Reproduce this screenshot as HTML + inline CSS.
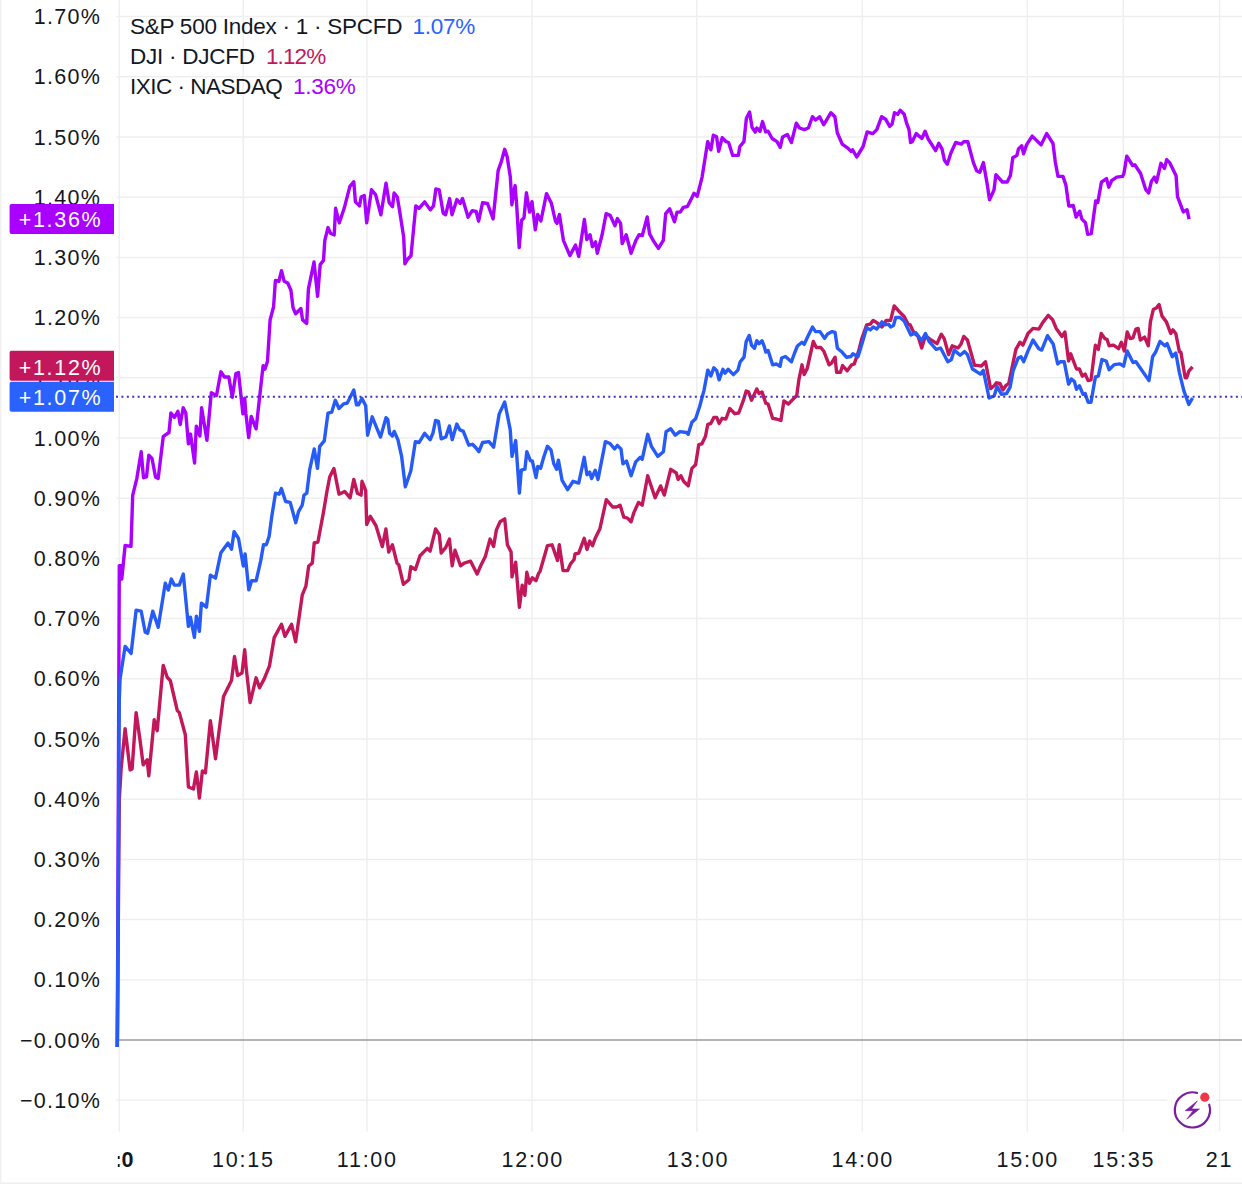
<!DOCTYPE html>
<html><head><meta charset="utf-8"><style>
html,body{margin:0;padding:0;background:#fff;}
body{width:1242px;height:1195px;overflow:hidden;}
svg{display:block;font-family:"Liberation Sans",sans-serif;}
</style></head><body>
<svg width="1242" height="1195" viewBox="0 0 1242 1195">
<rect x="0" y="0" width="1242" height="1195" fill="#fff"/>
<rect x="0" y="0" width="1.5" height="1183" fill="#f1f1f1"/>
<rect x="0" y="1182.5" width="1242" height="1.5" fill="#eeeeee"/>

<g stroke="#efefef" stroke-width="1.5"><line x1="116.5" y1="1100.2" x2="1242" y2="1100.2"/><line x1="116.5" y1="979.8" x2="1242" y2="979.8"/><line x1="116.5" y1="919.6" x2="1242" y2="919.6"/><line x1="116.5" y1="859.4" x2="1242" y2="859.4"/><line x1="116.5" y1="799.2" x2="1242" y2="799.2"/><line x1="116.5" y1="739.0" x2="1242" y2="739.0"/><line x1="116.5" y1="678.8" x2="1242" y2="678.8"/><line x1="116.5" y1="618.6" x2="1242" y2="618.6"/><line x1="116.5" y1="558.4" x2="1242" y2="558.4"/><line x1="116.5" y1="498.2" x2="1242" y2="498.2"/><line x1="116.5" y1="438.0" x2="1242" y2="438.0"/><line x1="116.5" y1="377.8" x2="1242" y2="377.8"/><line x1="116.5" y1="317.6" x2="1242" y2="317.6"/><line x1="116.5" y1="257.4" x2="1242" y2="257.4"/><line x1="116.5" y1="197.2" x2="1242" y2="197.2"/><line x1="116.5" y1="137.0" x2="1242" y2="137.0"/><line x1="116.5" y1="76.8" x2="1242" y2="76.8"/><line x1="116.5" y1="16.6" x2="1242" y2="16.6"/>
<line x1="119.3" y1="0" x2="119.3" y2="1131.5"/>
<line x1="243.2" y1="0" x2="243.2" y2="1131.5"/>
<line x1="366.9" y1="0" x2="366.9" y2="1131.5"/>
<line x1="532.0" y1="0" x2="532.0" y2="1131.5"/>
<line x1="696.8" y1="0" x2="696.8" y2="1131.5"/>
<line x1="862.3" y1="0" x2="862.3" y2="1131.5"/>
<line x1="1027.3" y1="0" x2="1027.3" y2="1131.5"/>
<line x1="1123.2" y1="0" x2="1123.2" y2="1131.5"/>
<line x1="1219.6" y1="0" x2="1219.6" y2="1131.5"/>
</g>
<line x1="117" y1="1040" x2="1242" y2="1040" stroke="#9a9a9a" stroke-width="1.6"/>
<g fill="#131722" font-size="21.5" letter-spacing="1.3"><text x="101.3" y="1107.7" text-anchor="end">−0.10%</text><text x="101.3" y="1047.5" text-anchor="end">−0.00%</text><text x="101.3" y="987.3" text-anchor="end">0.10%</text><text x="101.3" y="927.1" text-anchor="end">0.20%</text><text x="101.3" y="866.9" text-anchor="end">0.30%</text><text x="101.3" y="806.7" text-anchor="end">0.40%</text><text x="101.3" y="746.5" text-anchor="end">0.50%</text><text x="101.3" y="686.3" text-anchor="end">0.60%</text><text x="101.3" y="626.1" text-anchor="end">0.70%</text><text x="101.3" y="565.9" text-anchor="end">0.80%</text><text x="101.3" y="505.7" text-anchor="end">0.90%</text><text x="101.3" y="445.5" text-anchor="end">1.00%</text><text x="101.3" y="385.3" text-anchor="end">1.10%</text><text x="101.3" y="325.1" text-anchor="end">1.20%</text><text x="101.3" y="264.9" text-anchor="end">1.30%</text><text x="101.3" y="204.7" text-anchor="end">1.40%</text><text x="101.3" y="144.5" text-anchor="end">1.50%</text><text x="101.3" y="84.3" text-anchor="end">1.60%</text><text x="101.3" y="24.1" text-anchor="end">1.70%</text></g>
<g fill="#131722" font-size="21.5" text-anchor="middle" letter-spacing="1.75"><text x="243.4" y="1167">10:15</text><text x="367.3" y="1167">11:00</text><text x="532.8" y="1167">12:00</text><text x="698" y="1167">13:00</text><text x="862.8" y="1167">14:00</text><text x="1027.8" y="1167">15:00</text><text x="1123.9" y="1167">15:35</text><text x="1219.4" y="1167">21</text></g>
<clipPath id="cl"><rect x="117.8" y="1130" width="40" height="60"/></clipPath>
<text x="133.5" y="1167" text-anchor="end" font-size="21.5" font-weight="bold" fill="#131722" clip-path="url(#cl)">0:0</text>
<path d="M117.3,1047.0 L119.3,565.6 L120.9,565.6 L121.8,579.0 L125.1,545.5 L131.0,546.4 L132.7,495.3 L136.8,478.6 L141.2,451.8 L143.5,477.7 L146.5,476.9 L148.8,455.1 L152.0,458.5 L155.5,476.9 L158.2,478.4 L163.3,436.3 L169.0,432.5 L170.9,413.0 L174.4,417.4 L177.9,411.3 L180.2,424.5 L183.2,407.8 L185.8,413.0 L188.4,443.8 L190.5,434.1 L194.6,463.1 L196.3,426.2 L199.9,435.9 L201.6,407.8 L206.9,440.3 L211.3,392.8 L216.5,395.5 L220.9,371.8 L224.4,377.0 L228.8,377.0 L232.3,397.2 L235.9,373.5 L238.5,372.6 L242.9,413.9 L244.7,398.1 L245.9,413.9 L248.7,437.6 L251.2,416.5 L256.1,428.8 L263.1,365.6 L264.9,369.1 L267.5,361.2 L270.1,319.9 L273.6,306.7 L275.4,280.4 L278.9,281.3 L281.5,270.7 L284.2,281.3 L287.7,283.0 L290.9,290.1 L293.0,307.6 L295.6,313.8 L300.9,308.5 L302.6,319.9 L306.7,323.4 L308.4,289.2 L314.0,262.0 L317.6,296.2 L320.2,264.6 L323.5,260.4 L324.8,240.5 L328.0,227.6 L330.5,233.3 L334.2,234.9 L335.6,208.3 L339.3,222.8 L344.2,208.3 L349.8,186.6 L353.8,181.7 L355.4,201.9 L359.5,205.9 L361.1,197.0 L364.3,195.4 L366.7,222.8 L371.5,189.8 L375.6,194.6 L380.9,214.8 L386.0,183.3 L389.2,202.7 L392.5,206.7 L394.1,193.0 L397.3,197.0 L399.7,211.5 L403.7,237.3 L404.9,263.9 L407.8,259.0 L411.0,255.8 L415.8,205.9 L419.0,208.3 L424.7,201.9 L430.3,209.9 L433.5,205.9 L435.9,189.0 L439.2,189.8 L443.2,213.1 L445.6,214.8 L449.6,198.6 L452.0,214.8 L456.9,199.5 L460.1,203.5 L462.5,198.6 L468.1,217.2 L472.2,210.7 L476.2,211.5 L478.6,221.2 L482.6,202.7 L487.5,203.5 L493.1,218.8 L498.2,170.3 L501.4,161.4 L504.7,149.3 L507.1,156.6 L510.3,176.7 L511.9,204.9 L513.5,192.8 L515.1,185.6 L516.7,205.7 L519.2,247.6 L521.6,220.2 L524.0,217.8 L526.4,192.8 L529.6,212.1 L532.0,201.7 L535.3,229.8 L537.7,214.5 L540.9,221.0 L546.5,193.6 L551.4,203.3 L555.4,221.0 L557.0,223.4 L559.4,214.5 L563.4,240.3 L569.9,255.6 L575.5,245.1 L578.7,256.4 L584.4,219.4 L586.8,239.5 L590.0,234.7 L592.4,246.7 L595.6,241.9 L597.3,253.2 L602.1,234.7 L606.1,213.7 L610.1,215.3 L615.0,225.8 L617.4,218.6 L620.6,223.4 L622.2,243.5 L626.2,234.7 L631.1,253.2 L635.9,240.3 L639.1,234.7 L642.3,235.5 L647.2,217.0 L649.6,233.9 L653.6,241.1 L658.4,248.4 L663.3,240.3 L665.7,213.7 L669.7,208.9 L674.5,221.8 L677.0,212.1 L680.2,212.1 L683.4,207.3 L687.4,206.5 L691.5,198.4 L694.0,193.2 L697.2,196.4 L702.1,177.1 L707.7,141.7 L710.9,149.8 L713.3,135.3 L716.6,136.9 L718.7,151.4 L722.2,137.7 L726.2,141.7 L728.6,142.5 L732.7,155.4 L738.3,155.4 L739.9,146.5 L743.9,141.7 L746.4,118.3 L749.6,111.9 L752.0,127.2 L755.2,132.0 L756.8,128.0 L760.0,131.2 L762.5,121.6 L765.7,132.0 L768.1,131.2 L772.1,138.5 L777.0,141.7 L780.2,147.3 L782.6,136.9 L787.4,134.5 L791.4,142.5 L796.3,123.2 L799.5,128.0 L804.3,129.6 L808.4,128.0 L812.4,116.7 L815.6,120.0 L819.6,116.7 L823.7,124.8 L830.9,112.7 L834.9,116.7 L837.3,132.8 L842.2,144.1 L847.8,148.1 L851.0,151.4 L852.6,149.8 L856.7,157.0 L863.1,146.5 L867.1,132.0 L872.8,133.6 L876.8,129.6 L881.6,116.7 L885.6,119.2 L889.7,126.4 L892.1,124.0 L894.5,112.7 L897.7,114.3 L900.1,110.3 L904.2,114.3 L906.6,123.2 L909.0,129.6 L910.6,142.5 L912.2,141.7 L916.2,133.6 L921.9,138.5 L925.1,131.2 L928.3,139.3 L931.5,144.1 L935.6,150.6 L938.8,143.3 L942.0,148.9 L944.4,160.2 L947.3,164.2 L950.9,153.0 L955.7,142.5 L961.3,144.1 L963.7,141.7 L967.8,141.7 L973.4,162.6 L976.6,170.7 L979.8,172.3 L983.4,162.6 L987.1,183.6 L989.5,199.7 L994.0,190.0 L995.9,174.7 L1002.4,182.0 L1007.2,182.0 L1010.4,175.5 L1012.8,157.8 L1016.9,155.4 L1018.5,148.9 L1021.7,145.7 L1023.6,153.8 L1026.5,144.9 L1032.2,136.1 L1037.0,140.9 L1041.0,144.9 L1046.7,133.6 L1053.0,143.5 L1055.3,162.0 L1058.0,176.4 L1063.0,176.4 L1065.9,185.1 L1068.8,206.1 L1073.2,205.4 L1076.1,217.0 L1079.7,211.2 L1081.9,219.1 L1085.5,222.8 L1087.7,234.3 L1091.3,233.6 L1095.7,201.0 L1097.8,202.5 L1101.4,182.2 L1106.5,178.6 L1108.7,187.2 L1111.6,180.7 L1116.7,177.1 L1122.5,176.4 L1123.9,173.5 L1126.8,156.1 L1132.6,165.5 L1134.8,164.8 L1140.6,173.5 L1145.7,189.4 L1148.6,193.0 L1151.4,181.4 L1154.3,177.1 L1156.5,182.2 L1160.9,163.3 L1164.5,168.4 L1166.7,159.7 L1169.6,162.6 L1176.1,175.7 L1177.5,196.7 L1183.3,211.9 L1187.0,209.7 L1189.1,219.1" fill="none" stroke="#AA00FF" stroke-width="3.4" stroke-linejoin="round" stroke-linecap="butt"/>
<path d="M117.3,1047.0 L119.3,800.0 L121.1,768.9 L125.1,728.7 L130.1,769.9 L132.1,768.9 L136.1,712.6 L140.1,740.8 L143.2,764.9 L147.2,759.8 L148.8,775.9 L154.2,719.7 L157.2,730.7 L163.2,665.4 L167.3,677.5 L170.3,680.5 L177.3,710.6 L179.3,712.6 L185.3,734.7 L188.4,787.0 L193.4,789.0 L196.4,771.9 L199.4,798.0 L202.4,770.9 L205.4,772.9 L210.4,720.7 L215.5,758.8 L223.5,696.6 L231.5,680.5 L234.5,656.4 L237.6,675.5 L242.0,673.1 L244.7,649.7 L246.1,667.1 L250.1,702.6 L256.1,677.8 L259.5,687.8 L264.1,679.1 L269.5,665.8 L274.2,637.6 L281.5,624.3 L284.9,636.3 L291.6,624.3 L295.6,641.7 L302.3,594.8 L305.9,586.2 L308.7,566.0 L312.3,563.2 L314.2,543.0 L317.9,542.0 L323.4,512.6 L327.1,490.5 L329.8,476.7 L333.9,468.4 L339.0,494.2 L344.6,491.4 L350.1,497.8 L353.8,479.4 L357.4,493.2 L361.1,495.1 L362.0,481.3 L365.7,490.5 L366.7,524.5 L370.3,516.3 L375.9,525.5 L382.3,546.6 L385.9,529.0 L388.7,552.0 L392.4,544.7 L397.0,563.1 L398.8,564.9 L403.4,584.3 L408.9,579.7 L410.8,566.8 L415.4,569.5 L420.0,555.7 L427.3,548.4 L430.1,551.1 L435.6,529.0 L439.3,534.5 L441.2,553.0 L445.8,547.4 L449.4,539.1 L452.2,565.8 L455.0,550.2 L460.5,565.8 L464.2,563.1 L470.6,561.2 L477.1,574.1 L480.7,565.8 L485.3,556.6 L490.0,539.1 L493.6,546.5 L496.4,529.9 L500.1,521.7 L504.7,518.9 L507.4,544.7 L511.1,552.0 L512.0,576.9 L515.7,562.2 L519.4,607.3 L522.2,585.2 L524.9,595.3 L526.8,572.3 L529.5,583.3 L532.3,577.8 L536.0,580.6 L538.7,573.2 L540.0,571.5 L547.4,545.7 L552.0,544.8 L557.5,560.4 L559.3,544.8 L563.0,570.6 L567.6,570.6 L570.4,564.1 L574.1,559.5 L575.0,554.0 L578.7,553.1 L584.2,538.3 L587.0,549.4 L589.7,541.1 L592.5,545.7 L595.2,538.3 L599.8,529.1 L606.3,499.7 L612.7,507.0 L616.4,507.0 L620.1,505.2 L623.8,517.2 L627.5,518.1 L631.1,521.8 L633.9,512.6 L638.5,502.4 L642.2,505.2 L647.7,475.7 L655.1,497.8 L660.6,485.9 L664.3,495.1 L670.7,469.3 L676.3,473.0 L678.1,479.4 L680.9,475.7 L683.6,481.3 L688.2,485.9 L691.9,468.4 L695.6,464.7 L698.8,444.6 L701.8,443.9 L705.5,436.3 L707.8,424.3 L710.8,423.5 L713.8,417.5 L716.8,417.5 L719.1,423.5 L722.1,418.3 L725.9,419.0 L729.7,408.5 L734.9,413.7 L738.7,413.0 L743.2,400.9 L746.2,391.1 L748.5,391.9 L751.5,400.2 L756.8,388.9 L759.0,393.4 L762.0,391.9 L765.8,403.2 L768.1,404.0 L772.6,418.3 L776.4,419.0 L780.9,420.5 L783.9,400.9 L788.4,404.0 L792.9,399.4 L796.7,395.7 L799.0,379.1 L802.0,364.8 L804.2,374.6 L807.2,368.6 L813.3,341.4 L816.3,347.5 L820.8,347.5 L823.8,351.2 L829.1,364.8 L831.3,363.3 L835.1,357.2 L836.6,372.3 L840.4,372.3 L842.6,365.5 L847.2,370.8 L851.7,364.8 L854.3,363.9 L858.7,350.9 L861.6,339.3 L866.7,324.8 L870.3,324.1 L873.2,320.4 L876.8,322.6 L881.9,327.0 L886.2,320.4 L890.6,320.4 L894.2,305.9 L899.3,311.7 L904.3,316.8 L908.0,324.1 L910.1,324.8 L913.8,332.8 L918.1,336.4 L921.7,348.0 L925.4,335.7 L931.2,340.0 L937.0,343.6 L941.3,334.2 L944.2,338.6 L948.6,354.5 L952.2,345.8 L958.0,348.0 L960.9,344.3 L963.8,336.4 L967.4,340.0 L974.6,365.4 L977.5,365.4 L981.2,366.1 L985.5,361.7 L990.6,388.6 L994.2,385.7 L996.4,382.8 L1000.0,383.5 L1002.9,390.0 L1005.8,385.7 L1008.7,383.5 L1015.9,349.4 L1020.0,342.2 L1022.9,345.1 L1028.0,333.5 L1033.0,328.4 L1038.8,329.1 L1043.2,321.9 L1048.3,315.4 L1052.6,319.7 L1056.2,328.4 L1062.0,336.4 L1064.9,332.0 L1068.6,361.0 L1070.7,353.8 L1076.5,369.0 L1079.4,369.0 L1082.3,376.2 L1085.2,374.1 L1088.1,380.6 L1091.0,379.9 L1095.4,345.1 L1098.3,349.4 L1101.2,333.5 L1104.8,338.6 L1107.0,339.3 L1109.1,345.8 L1113.5,345.1 L1118.6,348.7 L1121.4,342.2 L1124.3,350.9 L1127.2,332.0 L1130.1,338.6 L1133.0,337.8 L1135.9,329.1 L1138.1,328.4 L1140.3,340.0 L1144.6,337.1 L1148.3,345.8 L1150.4,321.9 L1153.3,309.6 L1156.2,308.1 L1159.1,304.5 L1162.0,316.1 L1166.4,321.9 L1170.7,333.5 L1172.9,329.9 L1175.8,333.5 L1179.4,351.6 L1180.9,352.3 L1185.2,377.7 L1186.7,377.7 L1188.8,371.2 L1192.5,366.8" fill="none" stroke="#C2185B" stroke-width="3.4" stroke-linejoin="round" stroke-linecap="butt"/>
<path d="M117.3,1047.0 L119.3,700.0 L120.1,678.5 L125.1,646.4 L131.1,653.4 L136.1,610.2 L141.2,611.2 L145.2,632.3 L147.6,633.3 L152.8,611.2 L158.2,627.3 L165.3,583.1 L168.3,590.1 L171.3,579.1 L174.3,585.1 L179.3,585.1 L183.3,574.1 L188.4,626.3 L190.4,617.2 L194.4,637.3 L196.4,616.2 L199.4,631.3 L201.4,603.2 L206.4,607.2 L210.4,575.1 L215.5,578.1 L220.9,552.7 L228.0,543.0 L231.5,549.2 L234.1,531.6 L238.5,538.5 L243.3,566.0 L245.1,554.0 L248.8,589.9 L251.6,580.7 L256.2,580.7 L260.8,560.4 L263.5,544.8 L266.3,544.8 L269.1,536.5 L271.8,516.3 L275.5,493.2 L279.2,494.2 L281.4,488.6 L285.6,501.5 L290.2,502.4 L295.8,522.7 L298.5,511.7 L302.2,505.2 L304.0,495.1 L306.8,493.2 L309.6,470.2 L314.2,449.0 L317.5,468.4 L319.7,446.3 L324.3,440.8 L328.0,413.1 L331.7,412.2 L335.3,400.3 L339.0,408.5 L343.6,403.9 L347.3,403.0 L353.8,390.1 L356.5,404.9 L358.4,404.9 L362.0,398.4 L365.7,405.8 L367.6,435.2 L372.2,416.8 L380.5,437.1 L386.0,417.7 L387.8,419.5 L389.6,433.3 L392.4,436.0 L394.2,431.4 L397.9,439.7 L401.6,456.3 L405.3,486.7 L410.8,471.0 L415.4,441.6 L419.1,442.5 L424.6,433.3 L430.1,439.7 L432.9,433.3 L435.6,420.4 L438.4,421.3 L441.2,438.8 L445.8,437.0 L449.4,425.9 L452.2,439.7 L456.8,424.1 L459.6,429.6 L463.3,431.4 L468.8,445.2 L472.5,444.3 L476.1,448.0 L478.9,451.7 L482.6,442.5 L489.0,441.6 L493.6,447.1 L499.2,413.9 L504.7,402.0 L510.2,429.6 L512.0,456.3 L515.7,440.6 L519.4,493.1 L521.3,470.1 L524.9,469.2 L526.8,451.7 L530.5,460.9 L532.3,460.9 L536.0,477.5 L537.8,466.4 L540.6,468.3 L543.7,457.3 L547.4,446.3 L551.0,450.0 L553.8,463.8 L556.6,469.3 L558.4,460.1 L562.1,480.4 L567.6,489.6 L573.1,481.3 L578.7,483.1 L584.2,457.3 L587.0,474.8 L589.7,472.1 L591.6,478.5 L595.2,470.2 L598.0,479.4 L605.4,441.7 L610.0,443.5 L614.6,449.0 L617.3,445.4 L621.0,449.0 L622.9,463.8 L626.5,461.0 L631.1,475.7 L635.7,461.9 L640.3,457.3 L642.2,459.2 L647.7,434.3 L651.4,446.3 L657.8,456.4 L663.4,451.8 L666.1,431.6 L670.7,428.8 L675.3,435.2 L679.9,431.6 L686.4,432.5 L688.2,434.3 L691.9,422.3 L695.6,418.7 L699.5,407.0 L704.0,390.4 L707.8,370.1 L710.8,376.1 L713.8,367.8 L716.8,370.8 L719.1,379.8 L722.9,369.3 L725.1,373.1 L728.1,369.3 L733.4,374.6 L737.9,370.1 L740.2,361.8 L744.0,357.2 L746.2,341.4 L749.2,335.4 L751.5,345.2 L754.5,348.2 L756.8,340.7 L759.0,343.7 L762.0,340.7 L764.3,346.7 L765.8,352.0 L768.1,350.5 L772.6,364.8 L776.4,364.0 L780.1,366.3 L781.6,358.0 L785.4,356.5 L791.4,361.8 L794.4,353.5 L797.4,346.0 L802.0,342.2 L804.2,344.4 L807.2,337.7 L812.5,327.1 L815.5,331.6 L820.0,331.6 L824.6,338.4 L827.6,333.9 L832.1,331.6 L835.1,332.4 L837.4,348.2 L841.1,351.2 L846.4,357.2 L850.9,356.5 L852.9,353.8 L858.0,356.7 L861.6,345.1 L866.7,327.7 L870.3,329.9 L873.2,327.0 L876.8,329.1 L881.9,321.9 L884.8,324.8 L888.4,324.1 L890.6,327.0 L893.5,325.5 L895.7,317.5 L900.0,317.5 L904.3,321.2 L910.9,334.9 L915.9,332.8 L921.7,340.7 L925.4,333.5 L929.0,341.4 L936.2,349.4 L940.6,348.0 L947.8,361.7 L951.4,359.6 L954.3,350.1 L960.1,355.2 L964.5,351.6 L967.4,354.5 L972.5,369.0 L980.4,374.1 L983.3,370.4 L989.1,398.0 L994.2,395.8 L997.1,386.4 L1001.4,394.3 L1006.5,393.6 L1010.1,387.1 L1013.0,371.2 L1018.1,358.1 L1021.0,356.7 L1023.7,361.7 L1028.0,350.9 L1033.0,340.0 L1038.8,348.7 L1041.7,350.1 L1047.5,335.7 L1053.3,344.3 L1057.7,363.9 L1060.6,361.7 L1064.2,361.7 L1068.6,384.2 L1071.4,379.1 L1074.3,381.3 L1076.5,389.3 L1079.4,385.7 L1083.0,394.3 L1085.2,393.6 L1088.1,402.3 L1091.0,402.3 L1095.4,377.0 L1098.3,376.2 L1101.9,359.6 L1106.2,361.0 L1109.1,369.7 L1114.2,364.6 L1120.0,363.9 L1123.6,366.1 L1127.2,350.9 L1133.0,362.5 L1135.9,361.7 L1149.0,380.6 L1152.6,356.7 L1155.5,352.3 L1160.0,341.4 L1164.9,345.8 L1167.1,343.6 L1172.2,356.7 L1175.8,353.0 L1179.4,372.6 L1183.8,390.7 L1188.8,404.5 L1192.5,398.0" fill="none" stroke="#265BF8" stroke-width="3.4" stroke-linejoin="round" stroke-linecap="butt"/>
<line x1="116" y1="396.8" x2="1242" y2="396.8" stroke="#3d34b8" stroke-width="2" stroke-dasharray="2,3.41"/>
<g font-size="22.5" letter-spacing="-0.25">
<text x="130" y="33.5" fill="#131722">S&amp;P 500 Index · 1 · SPCFD</text><text x="412.5" y="33.5" fill="#2962FF">1.07%</text>
<text x="130" y="63.5" fill="#131722">DJI · DJCFD</text><text x="266" y="63.5" fill="#C2185B" letter-spacing="-0.9">1.12%</text>
<text x="130" y="94" fill="#131722" letter-spacing="-0.5">IXIC · NASDAQ</text><text x="293" y="94" fill="#AA00FF">1.36%</text>
</g>
<path d="M11.5,204 H114 V234 H11.5 Q9.6,234 9.6,232 V206 Q9.6,204 11.5,204 Z" fill="#AA00FF"/><text x="102.4" y="226.8" text-anchor="end" fill="#fff" font-size="21.5" letter-spacing="1.7">+1.36%</text>
<path d="M11.5,350.8 H114 V380.8 H11.5 Q9.6,380.8 9.6,378.8 V352.8 Q9.6,350.8 11.5,350.8 Z" fill="#C2185B"/><text x="102.4" y="375" text-anchor="end" fill="#fff" font-size="21.5" letter-spacing="1.7">+1.12%</text>
<path d="M11.5,381.8 H114 V411.8 H11.5 Q9.6,411.8 9.6,409.8 V383.8 Q9.6,381.8 11.5,381.8 Z" fill="#2962FF"/><text x="102.4" y="404.5" text-anchor="end" fill="#fff" font-size="21.5" letter-spacing="1.7">+1.07%</text>
<rect x="1167.5" y="1087" width="48" height="46" fill="#fff"/>
<path d="M1209.23,1104.75 A17.6,17.6 0 1 1 1196.96,1092.90" fill="none" stroke="#7B1FA2" stroke-width="2.2" stroke-linecap="round"/>
<path d="M1197.3,1101.0 L1185.1,1110.7 L1193.0,1110.7 L1186.8,1119.2 L1199.5,1109.0 L1191.6,1109.0 Z" fill="#7B1FA2" stroke="#7B1FA2" stroke-width="0.6" stroke-linejoin="round"/>
<circle cx="1204.8" cy="1097.2" r="4.6" fill="#F23645"/>
</svg></body></html>
